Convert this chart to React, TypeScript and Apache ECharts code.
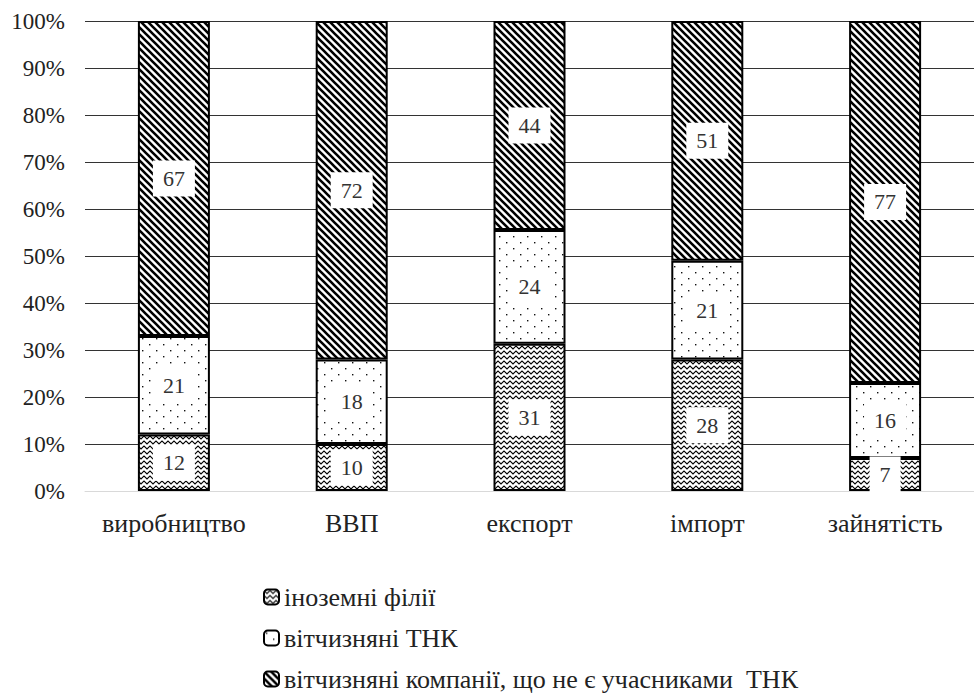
import React, { useEffect, useRef } from "react";
import * as echarts from "echarts";

const categories = ["виробництво", "ВВП", "експорт", "імпорт", "зайнятість"];
const seriesNames = [
  "іноземні філії",
  "вітчизняні ТНК",
  "вітчизняні компанії, що не є учасниками  ТНК",
];
const foreignBranches = [12, 10, 31, 28, 7];
const domesticTnc = [21, 18, 24, 21, 16];
const domesticOther = [67, 72, 44, 51, 77];
const yTickLabels = ["0%", "10%", "20%", "30%", "40%", "50%", "60%", "70%", "80%", "90%", "100%"];

const FONT = "Liberation Serif, DejaVu Serif, serif";

function makeCanvas(w: number, h: number, draw: (ctx: CanvasRenderingContext2D) => void) {
  const c = document.createElement("canvas");
  c.width = w;
  c.height = h;
  const ctx = c.getContext("2d")!;
  ctx.fillStyle = "#fff";
  ctx.fillRect(0, 0, w, h);
  draw(ctx);
  return c;
}

function zigzag() {
  return makeCanvas(6, 5, (ctx) => {
    ctx.strokeStyle = "#000";
    ctx.lineWidth = 1.1;
    ctx.beginPath();
    ctx.moveTo(-1.5, 3);
    ctx.lineTo(0, 1);
    ctx.lineTo(3, 4);
    ctx.lineTo(6, 1);
    ctx.lineTo(7.5, 3);
    ctx.stroke();
  });
}

function dots() {
  return makeCanvas(14, 12, (ctx) => {
    ctx.fillStyle = "#111";
    ctx.fillRect(2, 2, 1.4, 1.4);
    ctx.fillRect(9, 8, 1.4, 1.4);
  });
}

function stripes() {
  return makeCanvas(7, 7, (ctx) => {
    ctx.strokeStyle = "#000";
    ctx.lineWidth = 2.6;
    ctx.beginPath();
    for (const c of [-7, 0, 7]) {
      ctx.moveTo(-2 + c, -2);
      ctx.lineTo(9 + c, 9);
    }
    ctx.stroke();
  });
}

export default function App() {
  const ref = useRef<HTMLDivElement>(null);
  useEffect(() => {
    if (!ref.current) return;
    const chart = echarts.init(ref.current, null, { renderer: "svg" });
    const raw = [foreignBranches, domesticTnc, domesticOther];
    const totals = categories.map((_, i) => raw.reduce((s, a) => s + a[i], 0));
    const patterns = [zigzag(), dots(), stripes()];
    const series = raw.map((arr, si) => ({
      name: seriesNames[si],
      type: "bar",
      stack: "total",
      barWidth: 72,
      data: arr.map((v, i) => (v / totals[i]) * 100),
      itemStyle: {
        color: { image: patterns[si], repeat: "repeat" },
        borderColor: "#000",
        borderWidth: 2,
      },
      label: {
        show: true,
        position: "inside",
        formatter: (p: any) => String(arr[p.dataIndex]),
        backgroundColor: "#fff",
        padding: [7, 10],
        fontFamily: FONT,
        fontSize: 22,
        color: "#333",
      },
    }));
    chart.setOption({
      animation: false,
      backgroundColor: "#fff",
      textStyle: { fontFamily: FONT },
      grid: { left: 85, top: 21, width: 900, bottom: 202 },
      xAxis: {
        type: "category",
        data: categories,
        axisLine: { lineStyle: { color: "#d9d9d9", width: 1 } },
        axisTick: { show: false },
        axisLabel: { fontFamily: FONT, fontSize: 26, color: "#222", margin: 19, interval: 0 },
      },
      yAxis: {
        type: "value",
        min: 0,
        max: 100,
        interval: 10,
        axisLine: { show: false },
        axisTick: { show: false },
        splitLine: { lineStyle: { color: "#333", width: 1 } },
        axisLabel: {
          fontFamily: FONT,
          fontSize: 23,
          color: "#222",
          margin: 20,
          formatter: (v: number) => yTickLabels[Math.round(v / 10)],
        },
      },
      legend: {
        orient: "vertical",
        left: 263,
        top: 584,
        height: 200,
        padding: 0,
        itemWidth: 15,
        itemHeight: 15,
        itemGap: 15,
        data: seriesNames,
        textStyle: { fontFamily: FONT, fontSize: 26, color: "#222", lineHeight: 26 },
        itemStyle: { borderColor: "#000", borderWidth: 2 },
      },
      series,
    });
    return () => chart.dispose();
  }, []);
  return (
    <div
      ref={ref}
      style={{ position: "fixed", left: 0, top: 0, width: 974, height: 693, background: "#fff" }}
    />
  );
}
